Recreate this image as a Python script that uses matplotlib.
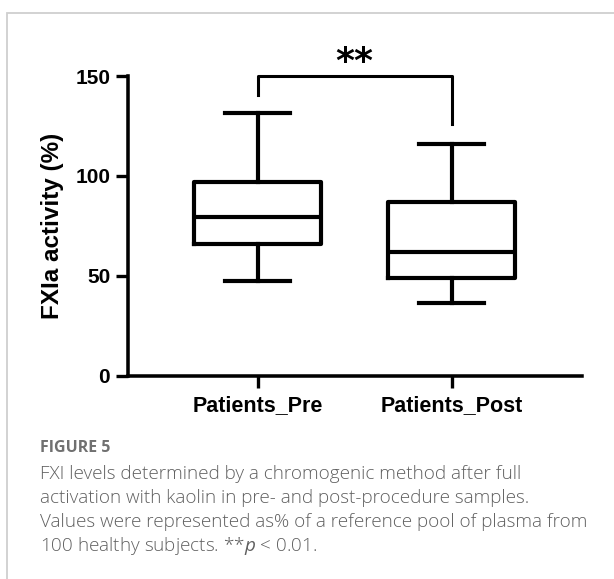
import matplotlib
matplotlib.use('Agg')
import matplotlib.pyplot as plt
from matplotlib.patches import Rectangle

groups = ['Patients_Pre', 'Patients_Post']
whisker_low = [47.4, 36.5]
q1 = [65.8, 49.0]
median = [79.6, 62.1]
q3 = [96.8, 86.9]
whisker_high = [131.6, 116.0]
bracket_legs = [140.5, 125.8]
bracket_top = 150
yticks = [0, 50, 100, 150]

caption_title = 'FIGURE 5'
caption_lines = [
    'FXI levels determined by a chromogenic method after full',
    'activation with kaolin in pre- and post-procedure samples.',
    'Values were represented as% of a reference pool of plasma from',
    '100 healthy subjects. **$p$ < 0.01.',
]

plt.rcParams['font.family'] = ['Liberation Sans', 'DejaVu Sans']
plt.rcParams['mathtext.fontset'] = 'custom'
plt.rcParams['mathtext.it'] = 'Open Sans:italic'

fig = plt.figure(figsize=(6.14, 5.79), dpi=100)
ax = fig.add_axes([0.208, 0.3511, 0.740, 0.5176])

# frame around the figure panel
fig.patches.append(Rectangle((7 / 614, -0.1), 1.2, 1 - 13 / 579 + 0.1, transform=fig.transFigure,
                             fill=False, edgecolor='#cfcfcf', linewidth=1.3))

stats = []
for i, g in enumerate(groups):
    stats.append({'label': g, 'whislo': whisker_low[i], 'q1': q1[i], 'med': median[i],
                  'q3': q3[i], 'whishi': whisker_high[i], 'fliers': []})

lw = 3.0
ax.bxp(stats, positions=[1, 2], widths=0.655, capwidths=0.33, showfliers=False,
       boxprops=dict(color='black', linewidth=lw),
       medianprops=dict(color='black', linewidth=lw),
       whiskerprops=dict(color='black', linewidth=lw),
       capprops=dict(color='black', linewidth=lw))

ax.set_xlim(0.331, 2.673)
ax.set_ylim(0, 150)
ax.set_yticks(yticks)
ax.set_xticks([1, 2])
ax.set_xticklabels(groups, fontsize=15.5, fontweight='bold')
for t in ax.get_yticklabels():
    t.set_fontsize(15)
    t.set_fontweight('bold')
ax.tick_params(axis='both', length=8.6, width=lw * 0.8, direction='out', pad=4)
ax.tick_params(axis='x', pad=5)
for s in ['top', 'right']:
    ax.spines[s].set_visible(False)
for s in ['left', 'bottom']:
    ax.spines[s].set_linewidth(lw * 0.85)
ax.set_ylabel('FXIa activity (%)', fontsize=17.5, fontweight='bold', labelpad=8)

# significance bracket
ax.plot([1, 1, 2, 2], [bracket_legs[0], bracket_top, bracket_top, bracket_legs[1]],
        color='black', linewidth=2.2, clip_on=False)
ax.text(1.5, 157, '**', ha='center', va='center', fontsize=26, fontweight='bold',
        family='DejaVu Sans')

fig.text(40 / 614, 1 - 448 / 579, caption_title, fontsize=11.5, fontweight='bold',
         color='#707070', family='Open Sans', va='center')
for i, line in enumerate(caption_lines):
    fig.text(40 / 614, 1 - (474 + i * 24) / 579, line, fontsize=13.6, color='#606060',
             family='Open Sans', fontweight='light', va='center')

fig.savefig('out.png', dpi=100)
